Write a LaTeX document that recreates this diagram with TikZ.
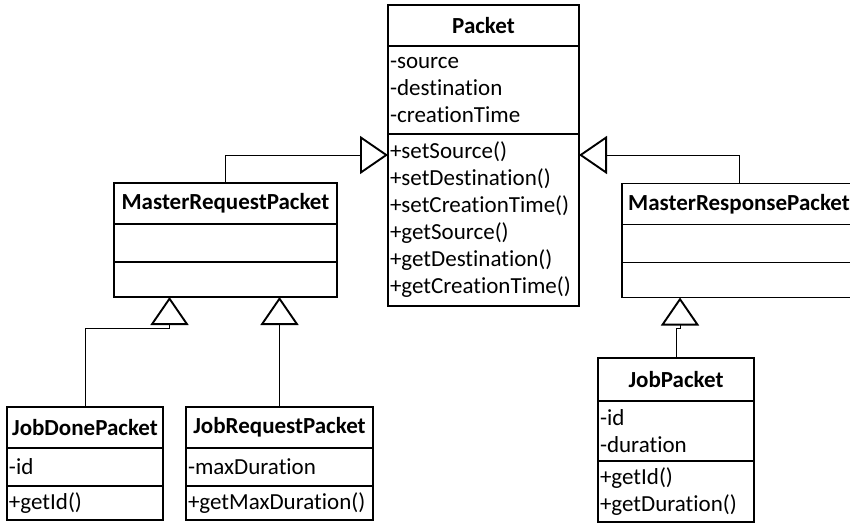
\documentclass[tikz,border=0pt]{standalone}
\usepackage{fontspec}
\setmainfont{Carlito}[Ligatures=CommonOff]
\usepackage{tikz}
\usetikzlibrary{arrows.meta,calc,positioning}

\begin{document}
\begin{tikzpicture}[x=1pt,y=-1pt,
        box/.style={draw,line width=1.9pt,outer sep=0pt,inner xsep=2pt,inner ysep=0pt,font=\fontsize{23pt}{27pt}\selectfont},
        head/.style={box,align=center,minimum height=41pt,font=\fontsize{23pt}{27pt}\selectfont\bfseries},
        part/.style={box,align=left},
        gen/.style={line width=1pt,-{Triangle[open,length=28pt,width=38pt,line width=1.9pt]}}]
        \useasboundingbox (0,0) rectangle (850,524);
        \clip (0,0) rectangle (850,524);

        \node[head,text width=187pt,anchor=north west] (packet) at (388,5) {Packet};
        \node[part,text width=187pt,minimum height=88pt,below=0pt of packet] (packetAttr) {-source\\-destination\\-creationTime};
        \node[part,text width=187pt,minimum height=172pt,below=0pt of packetAttr] (packetOps) {+setSource()\\+setDestination()\\+setCreationTime()\\+getSource()\\+getDestination()\\+getCreationTime()};

        \node[head,text width=219pt,anchor=north west] (mreq) at (114,183) {MasterRequestPacket};
        \node[part,text width=219pt,minimum height=38pt,below=0pt of mreq] (mreqAttr) {};
        \node[part,text width=219pt,minimum height=35pt,below=0pt of mreqAttr] (mreqOps) {};

        \node[head,text width=230pt,anchor=north west] (mresp) at (622,183.5) {MasterResponsePacket};
        \node[part,text width=230pt,minimum height=38pt,below=0pt of mresp] (mrespAttr) {};
        \node[part,text width=230pt,minimum height=35pt,below=0pt of mrespAttr] (mrespOps) {};

        \node[head,text width=152pt,anchor=north west] (jobDone) at (7,407) {JobDonePacket};
        \node[part,text width=152pt,minimum height=38pt,below=0pt of jobDone] (jobDoneAttr) {-id};
        \node[part,text width=152pt,minimum height=34pt,below=0pt of jobDoneAttr] (jobDoneOps) {+getId()};

        \node[head,text width=183pt,anchor=north west] (jobReq) at (186,407) {JobRequestPacket};
        \node[part,text width=183pt,minimum height=38pt,below=0pt of jobReq] (jobReqAttr) {-maxDuration};
        \node[part,text width=183pt,minimum height=34pt,below=0pt of jobReqAttr] (jobReqOps) {+getMaxDuration()};

        \node[head,text width=152pt,minimum height=43pt,anchor=north west] (jobPkt) at (598,358) {JobPacket};
        \node[part,text width=152pt,minimum height=60pt,below=0pt of jobPkt] (jobPktAttr) {-id\\-duration};
        \node[part,text width=152pt,minimum height=61pt,below=0pt of jobPktAttr] (jobPktOps) {+getId()\\+getDuration()};

        \coordinate (mreqL) at ([xshift=-56pt]mreqOps.south);
        \coordinate (mrespL) at ([xshift=-59pt]mrespOps.south);

        \draw[gen] (mreq.north) |- ([yshift=-21pt]packetOps.north west);
        \draw[gen] (mresp.north) |- ([yshift=-21pt]packetOps.north east);
        \draw[gen] (jobDone.north) |- ([yshift=-31pt]mreqL) -- (mreqL);
        \draw[gen] (jobReq.north) -- (jobReq.north |- mreqOps.south);
        \draw[gen] (jobPkt.north) |- ([yshift=-31pt]mrespL) -- (mrespL);
    \end{tikzpicture}
\end{document}
